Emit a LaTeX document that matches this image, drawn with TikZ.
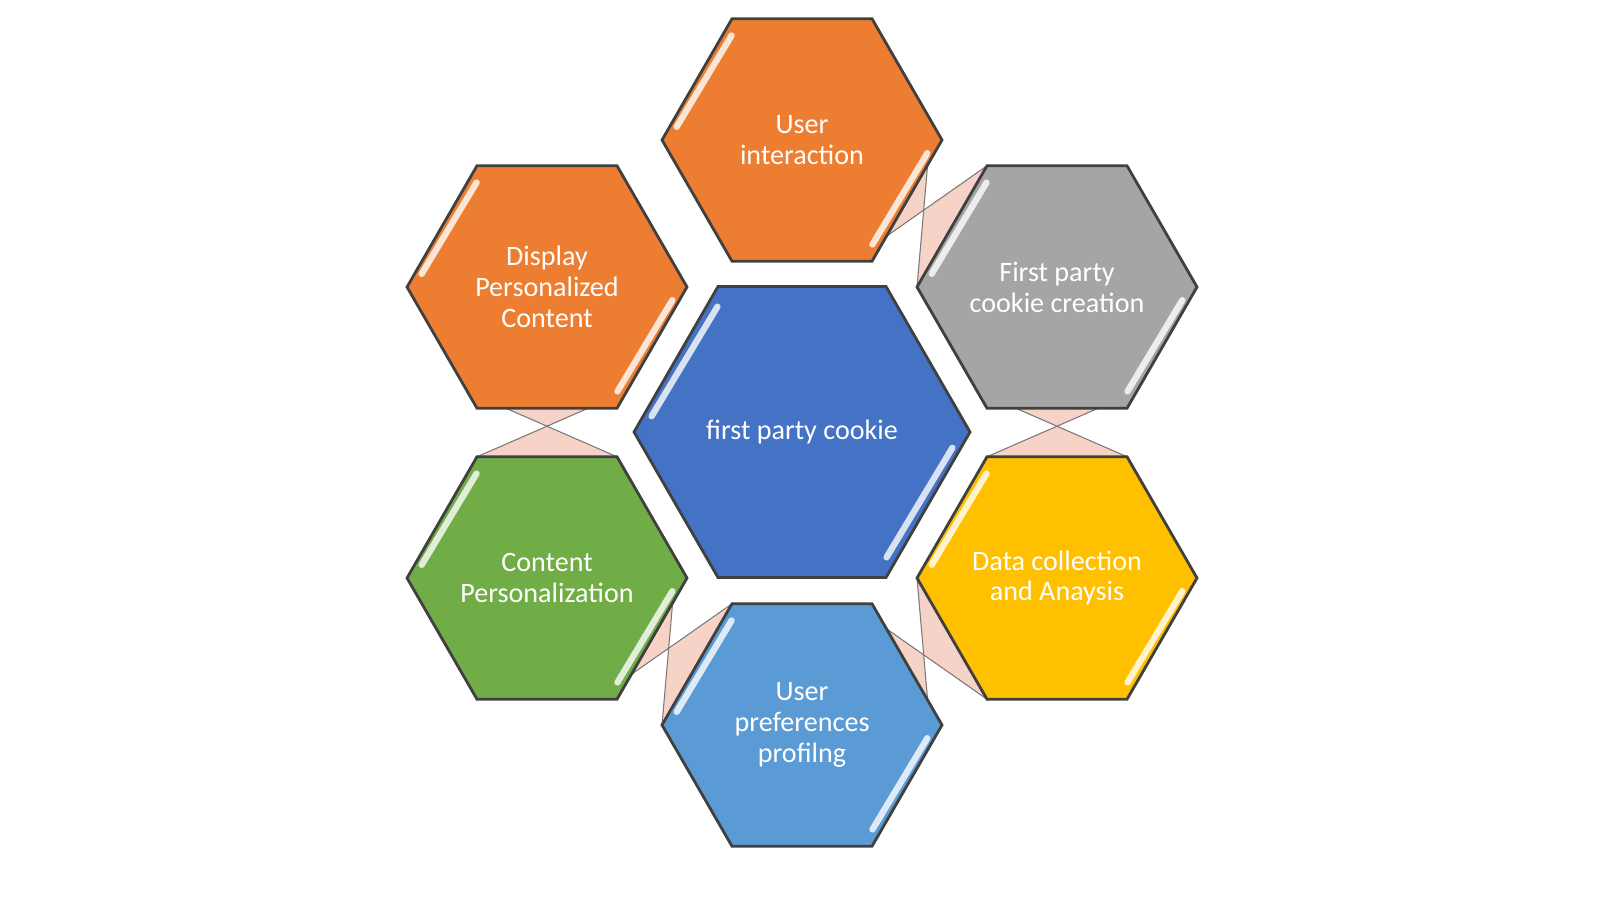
\documentclass[tikz,border=0pt]{standalone}
\usepackage{fontspec}
\setmainfont{Carlito}
\usetikzlibrary{calc}

\definecolor{hexorange}{HTML}{ED7D31}
\definecolor{hexgrey}{HTML}{A5A5A5}
\definecolor{hexblue}{HTML}{4472C4}
\definecolor{hexgold}{HTML}{FFC000}
\definecolor{hexgreen}{HTML}{70AD47}
\definecolor{hexsky}{HTML}{5B9BD5}
\definecolor{linkpink}{HTML}{F6D3C6}
\definecolor{hexline}{HTML}{404040}

% hexagon: name, centre, circumradius, fill, text
\newcommand{\hexa}[5]{%
  \coordinate (#1) at (#2);
  \filldraw[hexcell, fill=#4] ($(#1)+(0:#3)$) -- ($(#1)+(60:#3)$) -- ($(#1)+(120:#3)$)
    -- ($(#1)+(180:#3)$) -- ($(#1)+(240:#3)$) -- ($(#1)+(300:#3)$) -- cycle;
  \draw[gloss] ($(#1)+(124:0.9*#3)$) -- ($(#1)+(174:0.9*#3)$);
  \draw[gloss] ($(#1)+(-56:0.9*#3)$) -- ($(#1)+(-6:0.9*#3)$);
  \node[hextext] (#1-label) at (#1) {#5};
}
% pale link between two neighbouring hexagons
\newcommand{\hexlink}[3]{%
  \fill[linkpink, draw=hexline!70, line width=0.3pt]
    ($(#1)+(#3+19:1.28)$) -- ($(#1)+(#3-19:1.28)$)
    -- ($(#2)+(#3+150:1.4)$) -- ($(#2)+(#3+210:1.4)$) -- cycle;
}

\begin{document}
\begin{tikzpicture}[
  font=\fontsize{8}{8.8}\selectfont,
  hexcell/.style={draw=hexline, line width=0.8pt},
  hextext/.style={text=white, align=center},
  gloss/.style={white, line width=1.8pt, line cap=round, opacity=0.8}
]
\useasboundingbox (0,0) rectangle (16,9);

\coordinate (pui) at (8.02,7.60);
\coordinate (pfp) at (10.57,6.13);
\coordinate (pdc) at (10.57,3.22);
\coordinate (pup) at (8.02,1.75);
\coordinate (pcp) at (5.47,3.22);
\coordinate (pdp) at (5.47,6.13);

% links first, hexagons on top
\hexlink{pui}{pfp}{-30}
\hexlink{pfp}{pdc}{-90}
\hexlink{pdp}{pcp}{-90}
\hexlink{pcp}{pup}{-30}
\hexlink{pup}{pdc}{30}

\hexa{centre}{8.02,4.68}{1.68}{hexblue}{first party cookie}
\hexa{userint}{pui}{1.40}{hexorange}{User\\interaction}
\hexa{firstparty}{pfp}{1.40}{hexgrey}{First party\\cookie creation}
\hexa{datacoll}{pdc}{1.40}{hexgold}{Data collection\\and Anaysis}
\hexa{userpref}{pup}{1.40}{hexsky}{User\\preferences\\profilng}
\hexa{contpers}{pcp}{1.40}{hexgreen}{Content\\Personalization}
\hexa{display}{pdp}{1.40}{hexorange}{Display\\Personalized\\Content}
\end{tikzpicture}
\end{document}
